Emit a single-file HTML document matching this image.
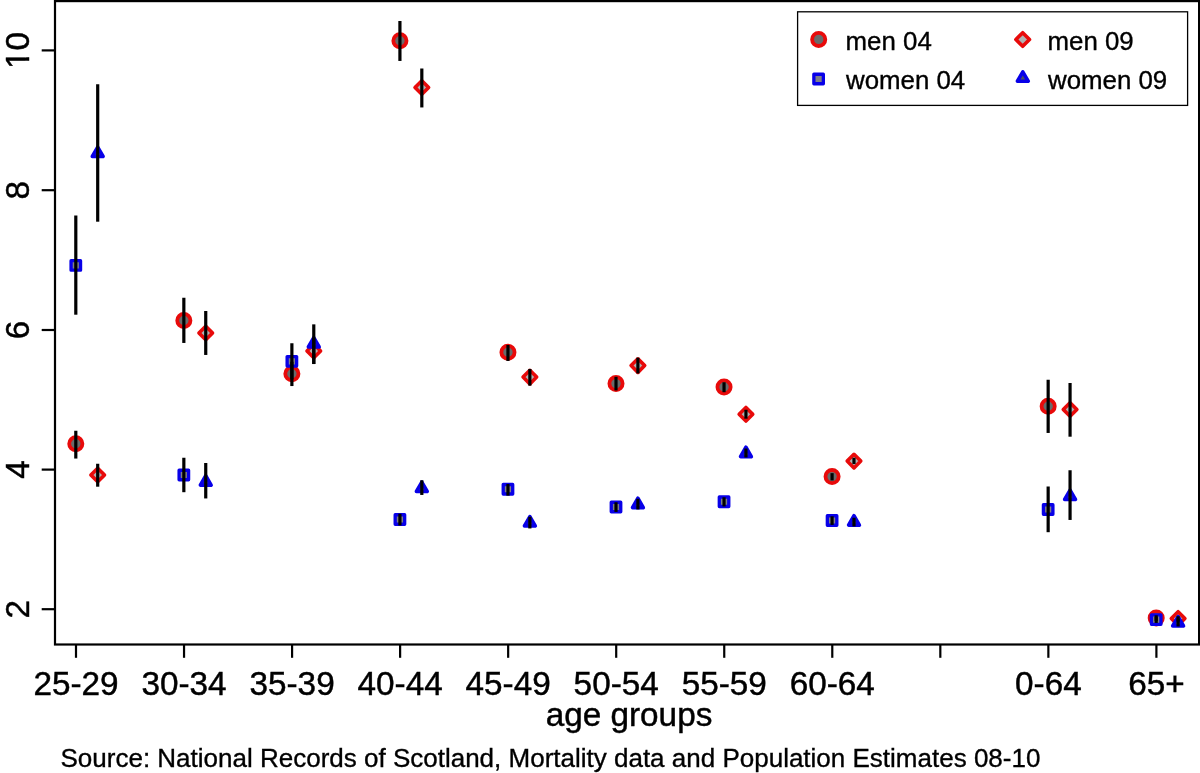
<!DOCTYPE html>
<html lang="en">
<head>
<meta charset="utf-8">
<title>Mortality rate ratios by age group</title>
<style>
html,body{margin:0;padding:0;background:#fff;}
body{width:1200px;height:773px;overflow:hidden;}
svg{display:block;}
text{font-family:"Liberation Sans",sans-serif;fill:#000;}
.ax{font-size:33.3px;stroke:#000;stroke-width:.45px;}
.lg{font-size:25.85px;stroke:#000;stroke-width:.35px;}
.src{font-size:26px;stroke:#000;stroke-width:.35px;}
</style>
</head>
<body>
<svg width="1200" height="773" viewBox="0 0 1200 773">
<rect x="0" y="0" width="1200" height="773" fill="#ffffff"/>
<defs><clipPath id="nofoot"><path clip-rule="evenodd" d="M-40 -40H40V12H-40Z M-16.8 -3H-10.4V4H-16.8Z M-6.95 -3H-1V4H-6.95Z"/></clipPath></defs>

<g fill="none" stroke="#000" stroke-width="2.2">
<rect x="55" y="1.1" width="1144.1" height="643.4"/>
<line x1="41.7" y1="50.4" x2="55" y2="50.4"/>
<line x1="41.7" y1="190.2" x2="55" y2="190.2"/>
<line x1="41.7" y1="330.0" x2="55" y2="330.0"/>
<line x1="41.7" y1="469.6" x2="55" y2="469.6"/>
<line x1="41.7" y1="609.2" x2="55" y2="609.2"/>
<line x1="76.00" y1="644.5" x2="76.00" y2="657.8"/>
<line x1="184.04" y1="644.5" x2="184.04" y2="657.8"/>
<line x1="292.08" y1="644.5" x2="292.08" y2="657.8"/>
<line x1="400.12" y1="644.5" x2="400.12" y2="657.8"/>
<line x1="508.16" y1="644.5" x2="508.16" y2="657.8"/>
<line x1="616.20" y1="644.5" x2="616.20" y2="657.8"/>
<line x1="724.24" y1="644.5" x2="724.24" y2="657.8"/>
<line x1="832.28" y1="644.5" x2="832.28" y2="657.8"/>
<line x1="940.32" y1="644.5" x2="940.32" y2="657.8"/>
<line x1="1048.36" y1="644.5" x2="1048.36" y2="657.8"/>
<line x1="1156.40" y1="644.5" x2="1156.40" y2="657.8"/>
</g>
<g class="ax" text-anchor="middle">
<text transform="translate(28.6 50.4) rotate(-90)" clip-path="url(#nofoot)">10</text>
<text transform="translate(28.6 190.2) rotate(-90)">8</text>
<text transform="translate(28.6 330.0) rotate(-90)">6</text>
<text transform="translate(28.6 469.6) rotate(-90)">4</text>
<text transform="translate(28.6 609.2) rotate(-90)">2</text>
<text x="76.00" y="695.3">25-29</text>
<text x="184.04" y="695.3">30-34</text>
<text x="292.08" y="695.3">35-39</text>
<text x="400.12" y="695.3">40-44</text>
<text x="508.16" y="695.3">45-49</text>
<text x="616.20" y="695.3">50-54</text>
<text x="724.24" y="695.3">55-59</text>
<text x="832.28" y="695.3">60-64</text>
<text x="1048.36" y="695.3">0-64</text>
<text x="1156.40" y="695.3">65+</text>
<text x="629" y="726.2">age groups</text>
</g>
<text class="src" x="60.5" y="767.3">Source: National Records of Scotland, Mortality data and Population Estimates 08-10</text>
<g>
<circle cx="75.80" cy="443.75" r="6.6" fill="#6A6A6A" stroke="#E80A0A" stroke-width="3.8"/>
<circle cx="183.84" cy="320.50" r="6.6" fill="#6A6A6A" stroke="#E80A0A" stroke-width="3.8"/>
<circle cx="291.88" cy="373.80" r="6.6" fill="#6A6A6A" stroke="#E80A0A" stroke-width="3.8"/>
<circle cx="399.92" cy="40.75" r="6.6" fill="#6A6A6A" stroke="#E80A0A" stroke-width="3.8"/>
<circle cx="507.96" cy="352.30" r="6.6" fill="#6A6A6A" stroke="#E80A0A" stroke-width="3.8"/>
<circle cx="616.00" cy="383.60" r="6.6" fill="#6A6A6A" stroke="#E80A0A" stroke-width="3.8"/>
<circle cx="724.04" cy="387.00" r="6.6" fill="#6A6A6A" stroke="#E80A0A" stroke-width="3.8"/>
<circle cx="832.08" cy="476.60" r="6.6" fill="#6A6A6A" stroke="#E80A0A" stroke-width="3.8"/>
<circle cx="1048.16" cy="406.25" r="6.6" fill="#6A6A6A" stroke="#E80A0A" stroke-width="3.8"/>
<circle cx="1156.20" cy="617.90" r="6.6" fill="#6A6A6A" stroke="#E80A0A" stroke-width="3.8"/>
<path d="M97.70 468.20L104.50 475.00L97.70 481.80L90.90 475.00Z" fill="#B2B2B2" stroke="#E80A0A" stroke-width="3.6" stroke-linejoin="round"/>
<path d="M205.74 326.20L212.54 333.00L205.74 339.80L198.94 333.00Z" fill="#B2B2B2" stroke="#E80A0A" stroke-width="3.6" stroke-linejoin="round"/>
<path d="M313.78 344.10L320.58 350.90L313.78 357.70L306.98 350.90Z" fill="#B2B2B2" stroke="#E80A0A" stroke-width="3.6" stroke-linejoin="round"/>
<path d="M421.82 80.70L428.62 87.50L421.82 94.30L415.02 87.50Z" fill="#B2B2B2" stroke="#E80A0A" stroke-width="3.6" stroke-linejoin="round"/>
<path d="M529.86 370.30L536.66 377.10L529.86 383.90L523.06 377.10Z" fill="#B2B2B2" stroke="#E80A0A" stroke-width="3.6" stroke-linejoin="round"/>
<path d="M637.90 358.80L644.70 365.60L637.90 372.40L631.10 365.60Z" fill="#B2B2B2" stroke="#E80A0A" stroke-width="3.6" stroke-linejoin="round"/>
<path d="M745.94 407.45L752.74 414.25L745.94 421.05L739.14 414.25Z" fill="#B2B2B2" stroke="#E80A0A" stroke-width="3.6" stroke-linejoin="round"/>
<path d="M853.98 454.30L860.78 461.10L853.98 467.90L847.18 461.10Z" fill="#B2B2B2" stroke="#E80A0A" stroke-width="3.6" stroke-linejoin="round"/>
<path d="M1070.06 402.70L1076.86 409.50L1070.06 416.30L1063.26 409.50Z" fill="#B2B2B2" stroke="#E80A0A" stroke-width="3.6" stroke-linejoin="round"/>
<path d="M1178.10 611.70L1184.90 618.50L1178.10 625.30L1171.30 618.50Z" fill="#B2B2B2" stroke="#E80A0A" stroke-width="3.6" stroke-linejoin="round"/>
<rect x="71.05" y="260.65" width="9.5" height="9.5" fill="#7E7E88" stroke="#0800E8" stroke-width="3.3" stroke-linejoin="round"/>
<rect x="179.09" y="470.25" width="9.5" height="9.5" fill="#7E7E88" stroke="#0800E8" stroke-width="3.3" stroke-linejoin="round"/>
<rect x="287.13" y="356.55" width="9.5" height="9.5" fill="#7E7E88" stroke="#0800E8" stroke-width="3.3" stroke-linejoin="round"/>
<rect x="395.17" y="514.75" width="9.5" height="9.5" fill="#7E7E88" stroke="#0800E8" stroke-width="3.3" stroke-linejoin="round"/>
<rect x="503.21" y="484.50" width="9.5" height="9.5" fill="#7E7E88" stroke="#0800E8" stroke-width="3.3" stroke-linejoin="round"/>
<rect x="611.25" y="502.25" width="9.5" height="9.5" fill="#7E7E88" stroke="#0800E8" stroke-width="3.3" stroke-linejoin="round"/>
<rect x="719.29" y="497.00" width="9.5" height="9.5" fill="#7E7E88" stroke="#0800E8" stroke-width="3.3" stroke-linejoin="round"/>
<rect x="827.33" y="515.75" width="9.5" height="9.5" fill="#7E7E88" stroke="#0800E8" stroke-width="3.3" stroke-linejoin="round"/>
<rect x="1043.41" y="504.75" width="9.5" height="9.5" fill="#7E7E88" stroke="#0800E8" stroke-width="3.3" stroke-linejoin="round"/>
<rect x="1151.45" y="614.85" width="9.5" height="9.5" fill="#7E7E88" stroke="#0800E8" stroke-width="3.3" stroke-linejoin="round"/>
<path d="M97.70 147.05L103.11 156.43L92.29 156.43Z" fill="#4A4A6A" stroke="#0800E8" stroke-width="3.6" stroke-linejoin="round"/>
<path d="M205.74 475.75L211.15 485.12L200.33 485.12Z" fill="#4A4A6A" stroke="#0800E8" stroke-width="3.6" stroke-linejoin="round"/>
<path d="M313.78 337.65L319.19 347.02L308.37 347.02Z" fill="#4A4A6A" stroke="#0800E8" stroke-width="3.6" stroke-linejoin="round"/>
<path d="M421.82 482.05L427.23 491.43L416.41 491.43Z" fill="#4A4A6A" stroke="#0800E8" stroke-width="3.6" stroke-linejoin="round"/>
<path d="M529.86 516.55L535.27 525.92L524.45 525.92Z" fill="#4A4A6A" stroke="#0800E8" stroke-width="3.6" stroke-linejoin="round"/>
<path d="M637.90 498.25L643.31 507.62L632.49 507.62Z" fill="#4A4A6A" stroke="#0800E8" stroke-width="3.6" stroke-linejoin="round"/>
<path d="M745.94 447.25L751.35 456.62L740.53 456.62Z" fill="#4A4A6A" stroke="#0800E8" stroke-width="3.6" stroke-linejoin="round"/>
<path d="M853.98 515.75L859.39 525.12L848.57 525.12Z" fill="#4A4A6A" stroke="#0800E8" stroke-width="3.6" stroke-linejoin="round"/>
<path d="M1070.06 490.05L1075.47 499.43L1064.65 499.43Z" fill="#4A4A6A" stroke="#0800E8" stroke-width="3.6" stroke-linejoin="round"/>
<path d="M1178.10 616.55L1183.51 625.92L1172.69 625.92Z" fill="#4A4A6A" stroke="#0800E8" stroke-width="3.6" stroke-linejoin="round"/>
</g>
<g stroke="#000" stroke-width="3.2" fill="none">
<line x1="75.80" y1="430.75" x2="75.80" y2="458.55"/>
<line x1="183.84" y1="297.75" x2="183.84" y2="342.95"/>
<line x1="291.88" y1="361.75" x2="291.88" y2="386.05"/>
<line x1="399.92" y1="21.00" x2="399.92" y2="60.95"/>
<line x1="507.96" y1="344.95" x2="507.96" y2="360.95"/>
<line x1="616.00" y1="376.75" x2="616.00" y2="390.45"/>
<line x1="724.04" y1="382.25" x2="724.04" y2="392.20"/>
<line x1="832.08" y1="473.15" x2="832.08" y2="480.45"/>
<line x1="1048.16" y1="379.75" x2="1048.16" y2="432.95"/>
<line x1="1156.20" y1="615.25" x2="1156.20" y2="620.95"/>
<line x1="97.70" y1="463.75" x2="97.70" y2="486.70"/>
<line x1="205.74" y1="311.00" x2="205.74" y2="354.95"/>
<line x1="313.78" y1="337.75" x2="313.78" y2="364.05"/>
<line x1="421.82" y1="68.50" x2="421.82" y2="107.45"/>
<line x1="529.86" y1="368.95" x2="529.86" y2="385.65"/>
<line x1="637.90" y1="357.65" x2="637.90" y2="373.45"/>
<line x1="745.94" y1="409.75" x2="745.94" y2="418.70"/>
<line x1="853.98" y1="457.75" x2="853.98" y2="464.05"/>
<line x1="1070.06" y1="383.00" x2="1070.06" y2="436.70"/>
<line x1="1178.10" y1="616.25" x2="1178.10" y2="621.45"/>
<line x1="75.80" y1="215.50" x2="75.80" y2="314.70"/>
<line x1="183.84" y1="457.75" x2="183.84" y2="492.20"/>
<line x1="291.88" y1="343.25" x2="291.88" y2="379.45"/>
<line x1="399.92" y1="513.75" x2="399.92" y2="525.45"/>
<line x1="507.96" y1="483.95" x2="507.96" y2="495.65"/>
<line x1="616.00" y1="502.25" x2="616.00" y2="511.95"/>
<line x1="724.04" y1="497.25" x2="724.04" y2="506.45"/>
<line x1="832.08" y1="516.25" x2="832.08" y2="524.95"/>
<line x1="1048.16" y1="486.50" x2="1048.16" y2="532.20"/>
<line x1="1156.20" y1="616.75" x2="1156.20" y2="622.95"/>
<line x1="97.70" y1="84.25" x2="97.70" y2="221.70"/>
<line x1="205.74" y1="463.00" x2="205.74" y2="498.45"/>
<line x1="313.78" y1="324.35" x2="313.78" y2="363.95"/>
<line x1="421.82" y1="480.25" x2="421.82" y2="494.95"/>
<line x1="529.86" y1="516.75" x2="529.86" y2="528.45"/>
<line x1="637.90" y1="498.75" x2="637.90" y2="509.45"/>
<line x1="745.94" y1="448.50" x2="745.94" y2="457.45"/>
<line x1="853.98" y1="517.75" x2="853.98" y2="526.45"/>
<line x1="1070.06" y1="470.25" x2="1070.06" y2="519.95"/>
<line x1="1178.10" y1="618.75" x2="1178.10" y2="626.45"/>
</g>
<rect x="797.6" y="11.8" width="390" height="93.6" fill="#fff" stroke="#000" stroke-width="1.3"/>
<circle cx="818.70" cy="39.40" r="6.6" fill="#6A6A6A" stroke="#E80A0A" stroke-width="3.8"/>
<rect x="813.85" y="74.25" width="9.5" height="9.5" fill="#7E7E88" stroke="#0800E8" stroke-width="3.3" stroke-linejoin="round"/>
<path d="M1022.70 32.70L1029.50 39.50L1022.70 46.30L1015.90 39.50Z" fill="#B2B2B2" stroke="#E80A0A" stroke-width="3.6" stroke-linejoin="round"/>
<path d="M1022.80 71.85L1028.21 81.22L1017.39 81.22Z" fill="#4A4A6A" stroke="#0800E8" stroke-width="3.6" stroke-linejoin="round"/>
<g class="lg">
<text x="845.6" y="50">men 04</text>
<text x="846" y="88.7">women 04</text>
<text x="1047.5" y="50">men 09</text>
<text x="1048" y="88.7">women 09</text>
</g>
</svg>
</body>
</html>
